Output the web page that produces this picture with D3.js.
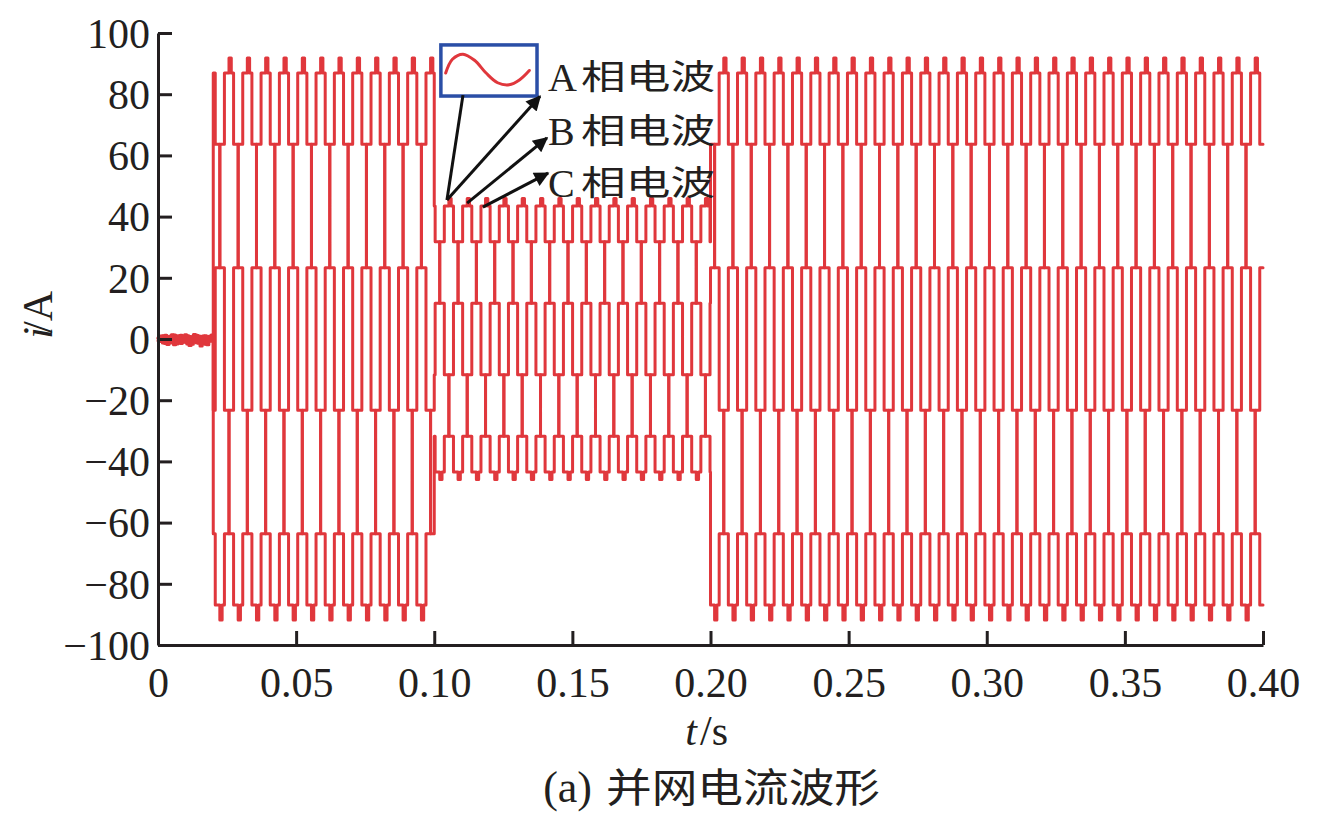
<!DOCTYPE html>
<html><head><meta charset="utf-8">
<script src="https://cdn.jsdelivr.net/npm/d3@7"></script>
<style>
body{margin:0;background:#fff}
svg{display:block}
text{fill:#231f20}
</style>
</head><body>
<svg id="chart" width="1330" height="817"></svg>
<script>
// ---------------- data ----------------
const timeTicks = [0, 0.05, 0.10, 0.15, 0.20, 0.25, 0.30, 0.35, 0.40];
const currentTicks = [-100, -80, -60, -40, -20, 0, 20, 40, 60, 80, 100];
const phaseLetters = ["A", "B", "C"];
const phaseWord = "相电波";
const captionLabel = "(a)";
const captionText = "并网电流波形";

// idle current before connection (0 – 0.02 s), one sample per 0.8 ms
const idleStep = 0.0008;
const idleA = [0.4,-0.8,1.1,-1.5,0.6,-0.3,1.4,-1.9,0.9,-0.6,1.2,-1.1,0.3,-1.6,0.8,-0.4,1.5,-1.2,0.2,-0.9,1.0,-1.7,0.5,-0.7,1.3];
const idleB = [-0.6,1.0,-1.3,0.5,-1.8,0.9,-0.2,1.3,-1.0,0.7,-1.5,0.4,-0.9,1.1,-2.1,0.6,-0.5,1.2,-1.4,0.3,-1.1,0.8,-1.9,0.9,-0.4];
const idleC = [0.2,0.7,-1.0,1.2,-0.4,-1.3,0.8,0.3,-1.6,1.1,-0.2,-0.8,1.4,-1.2,0.5,-1.7,0.9,-0.6,1.0,-2.3,0.4,1.1,-1.0,-0.5,0.6];

// operating intervals and their current scale (A)
const segmentStart = [0.0200, 0.1000, 0.2000];
const segmentEnd   = [0.1000, 0.2000, 0.4000];
const segmentScale = [90, 45, 90];

// one traced period of the stepped phase current (24 held slots, normalised),
// starting at the beginning of the positive plateau
const cycleShape = [0.966, 0.966, 1.02, 0.966, 0.707, 0.707, 0.259, 0.259, -0.259, -0.259, -0.707, -0.707,
                    -0.966, -0.966, -1.02, -0.966, -0.707, -0.707, -0.259, -0.259, 0.259, 0.259, 0.707, 0.707];
const periodSeconds = 0.0199;     // ~50 Hz
const firstPeakTime = 0.0257;     // centre of first positive plateau of phase A
const phaseLag = [0, 1/3, 2/3];   // A, B, C lag (fraction of a period)

// ---------------- layout ----------------
const plot = {left: 158, right: 1263, top: 33, bottom: 645};
const red = "#e0373c";
const ink = "#231f20";
const svg = d3.select("#chart");

const x = d3.scaleLinear().domain([0, 0.4]).range([plot.left, plot.right]);
const y = d3.scaleLinear().domain([-100, 100]).range([plot.bottom, plot.top]);

// ---------------- build series (held samples) ----------------
const n = cycleShape.length;
const mod = (a, m) => ((a % m) + m) % m;
function phaseSeries(p, idle) {
  const pts = idle.map((v, i) => [i * idleStep, v]);
  const step = periodSeconds / n;
  const t0 = firstPeakTime - 2 * step + phaseLag[p] * periodSeconds;
  segmentStart.forEach((s, si) => {
    const e = segmentEnd[si], amp = segmentScale[si];
    const jFirst = Math.floor((s - t0) / step);
    pts.push([s, amp * cycleShape[mod(jFirst, n)]]);
    for (let j = jFirst + 1; t0 + j * step < e; j++) {
      pts.push([t0 + j * step, amp * cycleShape[mod(j, n)]]);
    }
  });
  pts.push([segmentEnd[segmentEnd.length - 1], pts[pts.length - 1][1]]);
  return pts;
}
const series = [phaseSeries(0, idleA), phaseSeries(1, idleB), phaseSeries(2, idleC)];

const line = d3.line().x(d => x(d[0])).y(d => y(d[1])).curve(d3.curveStepAfter);
svg.append("g").selectAll("path").data(series).join("path")
  .attr("d", line).attr("fill", "none").attr("stroke", red)
  .attr("stroke-width", 3).attr("stroke-linejoin", "round").attr("stroke-linecap", "round");

// ---------------- axes ----------------
const serif = "'Liberation Serif','Times New Roman',serif";
const cjk = "'Noto Sans CJK SC','Noto Sans',sans-serif";
const fmtY = d => d < 0 ? "\u2212" + Math.abs(d) : String(d);
const fmtX = d => d === 0 ? "0" : d3.format(".2f")(d);

const gy = svg.append("g").attr("transform", `translate(${plot.left},0)`)
  .call(d3.axisLeft(y).tickValues(currentTicks).tickFormat(fmtY).tickSize(-14).tickPadding(8).tickSizeOuter(0));
const gx = svg.append("g").attr("transform", `translate(0,${plot.bottom})`)
  .call(d3.axisBottom(x).tickValues(timeTicks).tickFormat(fmtX).tickSize(-14).tickPadding(22).tickSizeOuter(0));
[gy, gx].forEach(g => {
  g.select(".domain").attr("stroke", ink).attr("stroke-width", 3);
  g.selectAll(".tick line").attr("stroke", ink).attr("stroke-width", 3);
  g.selectAll(".tick text").attr("font-family", serif).attr("font-size", 42).attr("fill", ink);
});
gy.selectAll(".tick text").attr("dy", "0.34em");

// axis titles (separate pieces so the italic symbol keeps its style)
svg.append("text").attr("transform", "translate(52,327) rotate(-90)")
  .attr("font-family", serif).attr("font-size", 42).attr("font-style", "italic")
  .attr("text-anchor", "end").text("i");
svg.append("text").attr("transform", "translate(52,333) rotate(-90)")
  .attr("font-family", serif).attr("font-size", 42).attr("text-anchor", "start").text("/A");
svg.append("text").attr("x", 697).attr("y", 745).attr("font-family", serif).attr("font-size", 42)
  .attr("font-style", "italic").attr("text-anchor", "end").text("t");
svg.append("text").attr("x", 700).attr("y", 745).attr("font-family", serif).attr("font-size", 42)
  .attr("text-anchor", "start").text("/s");

// caption
svg.append("text").attr("x", 592).attr("y", 802).attr("font-family", serif).attr("font-size", 44)
  .attr("text-anchor", "end").text(captionLabel);
svg.append("text").attr("x", 606).attr("y", 802).attr("font-family", cjk).attr("font-size", 40)
  .attr("textLength", 274).attr("lengthAdjust", "spacingAndGlyphs").text(captionText);

// ---------------- annotation ----------------
const defs = svg.append("defs");
defs.append("marker").attr("id", "ah").attr("viewBox", "0 0 10 10")
  .attr("refX", 9).attr("refY", 5).attr("markerWidth", 6).attr("markerHeight", 5)
  .attr("markerUnits", "strokeWidth").attr("orient", "auto")
  .append("path").attr("d", "M0,0 L10,5 L0,10 z").attr("fill", "#111");

const box = {t0: 0.1024, t1: 0.1372, i0: 79.4, i1: 96.1};
const bx0 = x(box.t0), bx1 = x(box.t1), by0 = y(box.i1), by1 = y(box.i0);
svg.append("rect").attr("x", bx0).attr("y", by0)
  .attr("width", bx1 - bx0).attr("height", by1 - by0)
  .attr("fill", "#fff").attr("stroke", "#2a4ea6").attr("stroke-width", 3.5);
// small wave glyph inside the box (relative box coordinates)
const glyphPts = [[0.05,0.55],[0.12,0.28],[0.23,0.18],[0.35,0.3],[0.47,0.55],[0.59,0.74],[0.71,0.78],[0.82,0.68],[0.92,0.5]];
svg.append("path")
  .attr("d", d3.line().x(d => bx0 + d[0] * (bx1 - bx0)).y(d => by0 + d[1] * (by1 - by0)).curve(d3.curveCatmullRom)(glyphPts))
  .attr("fill", "none").attr("stroke", red).attr("stroke-width", 3).attr("stroke-linecap", "round");

const ann = [
  {from: [0.1104, 79.7], to: [0.1046, 45.4], arrow: false},
  {from: [0.1046, 45.4], to: [0.1383, 79.3], arrow: true},
  {from: [0.1119, 44.4], to: [0.1408, 65.7], arrow: true},
  {from: [0.1176, 43.1], to: [0.1412, 54.2], arrow: true}
];
svg.append("g").selectAll("line").data(ann).join("line")
  .attr("x1", d => x(d.from[0])).attr("y1", d => y(d.from[1]))
  .attr("x2", d => x(d.to[0])).attr("y2", d => y(d.to[1]))
  .attr("stroke", "#111").attr("stroke-width", 3)
  .attr("marker-end", d => d.arrow ? "url(#ah)" : null);

const labelPos = [85.6, 68.0, 51.0];
phaseLetters.forEach((letter, k) => {
  svg.append("text").attr("x", x(0.1412)).attr("y", y(labelPos[k])).attr("dy", "0.36em")
    .attr("font-family", serif).attr("font-size", 40).text(letter);
  svg.append("text").attr("x", x(0.1412) + 33).attr("y", y(labelPos[k])).attr("dy", "0.36em")
    .attr("font-family", cjk).attr("font-size", 34)
    .attr("textLength", 134).attr("lengthAdjust", "spacingAndGlyphs").text(phaseWord);
});
</script>
</body></html>
